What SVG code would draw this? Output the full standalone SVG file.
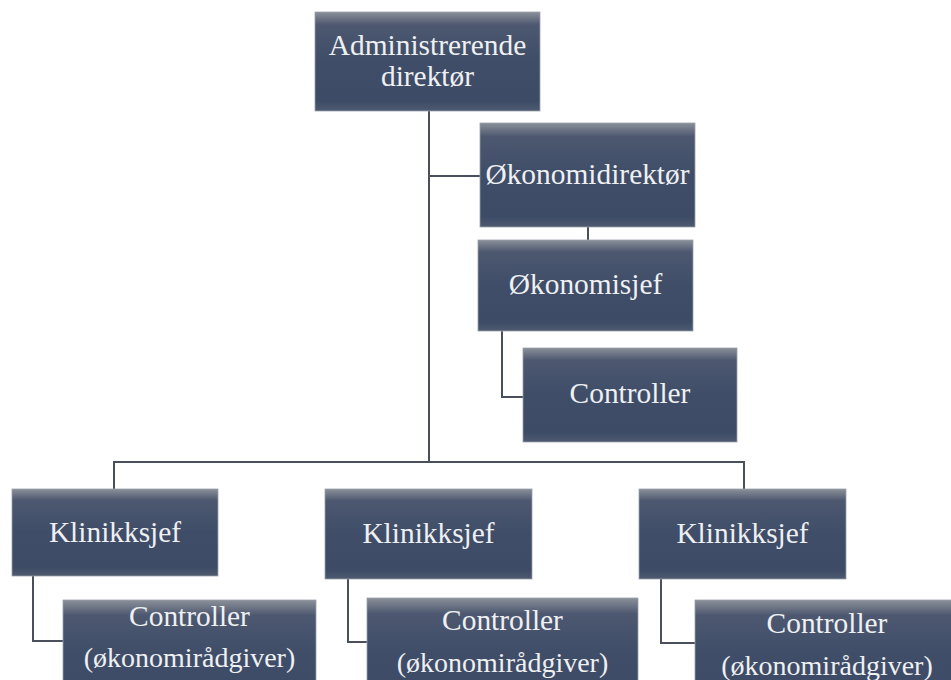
<svg xmlns="http://www.w3.org/2000/svg" width="951" height="680" viewBox="0 0 951 680">
<defs>
<linearGradient id="g" x1="0" y1="0" x2="0" y2="1">
<stop offset="0" stop-color="#8b9099"/>
<stop offset="0.13" stop-color="#4d5870"/>
<stop offset="0.5" stop-color="#3f4d68"/>
<stop offset="0.9" stop-color="#3d4b66"/>
<stop offset="1" stop-color="#4e5a70"/>
</linearGradient>
<linearGradient id="g2" x1="0" y1="0" x2="0" y2="1">
<stop offset="0" stop-color="#8b9099"/>
<stop offset="0.17" stop-color="#4d5870"/>
<stop offset="0.6" stop-color="#3f4d68"/>
<stop offset="1" stop-color="#3d4b66"/>
</linearGradient>
</defs>
<style>
.box{fill:url(#g);stroke:#9aa0aa;stroke-width:0.8}
.boxb{fill:url(#g2);stroke:#9aa0aa;stroke-width:0.8}
.t{font-family:"Liberation Serif","Times New Roman",serif;font-size:29.4px;fill:#eef0f2;text-anchor:middle}
.s{font-size:28px}
.c{fill:none;stroke:#4a4f5c;stroke-width:2}
</style>
<rect width="951" height="680" fill="#ffffff"/>
<g id="connectors">
<path class="c" d="M429 111 V462"/>
<path class="c" d="M429 176 H480"/>
<path class="c" d="M588 227 V240"/>
<path class="c" d="M502 331 V397 H523"/>
<path class="c" d="M114 489 V462 H744 V489"/>
<path class="c" d="M33 576 V641 H63"/>
<path class="c" d="M348 579 V642 H367"/>
<path class="c" d="M661 579 V643 H695"/>
</g>
<g id="adm">
<rect class="box" x="315" y="12" width="225" height="99"/>
<text class="t" x="427.5" y="55">Administrerende</text>
<text class="t" x="427.5" y="86">direktør</text>
</g>
<g id="okdir">
<rect class="box" x="480" y="123" width="215" height="104"/>
<text class="t" x="587.5" y="184">Økonomidirektør</text>
</g>
<g id="oksjef">
<rect class="box" x="478" y="240" width="215" height="91"/>
<text class="t" x="585.5" y="294">Økonomisjef</text>
</g>
<g id="controller">
<rect class="box" x="523" y="348" width="214" height="94"/>
<text class="t" x="630" y="403">Controller</text>
</g>
<g id="klinikk1">
<rect class="box" x="12" y="489" width="206" height="87"/>
<text class="t" x="115" y="542">Klinikksjef</text>
</g>
<g id="klinikk2">
<rect class="box" x="325" y="489" width="207" height="90"/>
<text class="t" x="428.5" y="543">Klinikksjef</text>
</g>
<g id="klinikk3">
<rect class="box" x="639" y="489" width="207" height="90"/>
<text class="t" x="742.5" y="543">Klinikksjef</text>
</g>
<g id="ctrl1">
<rect class="boxb" x="63" y="600" width="253" height="90"/>
<text class="t" x="189.5" y="626">Controller</text>
<text class="t s" x="189.5" y="667">(økonomirådgiver)</text>
</g>
<g id="ctrl2">
<rect class="boxb" x="367" y="598" width="271" height="92"/>
<text class="t" x="502.5" y="630">Controller</text>
<text class="t s" x="502.5" y="672">(økonomirådgiver)</text>
</g>
<g id="ctrl3">
<rect class="boxb" x="695" y="600" width="263" height="90"/>
<text class="t" x="827" y="633">Controller</text>
<text class="t s" x="827" y="675">(økonomirådgiver)</text>
</g>
</svg>
